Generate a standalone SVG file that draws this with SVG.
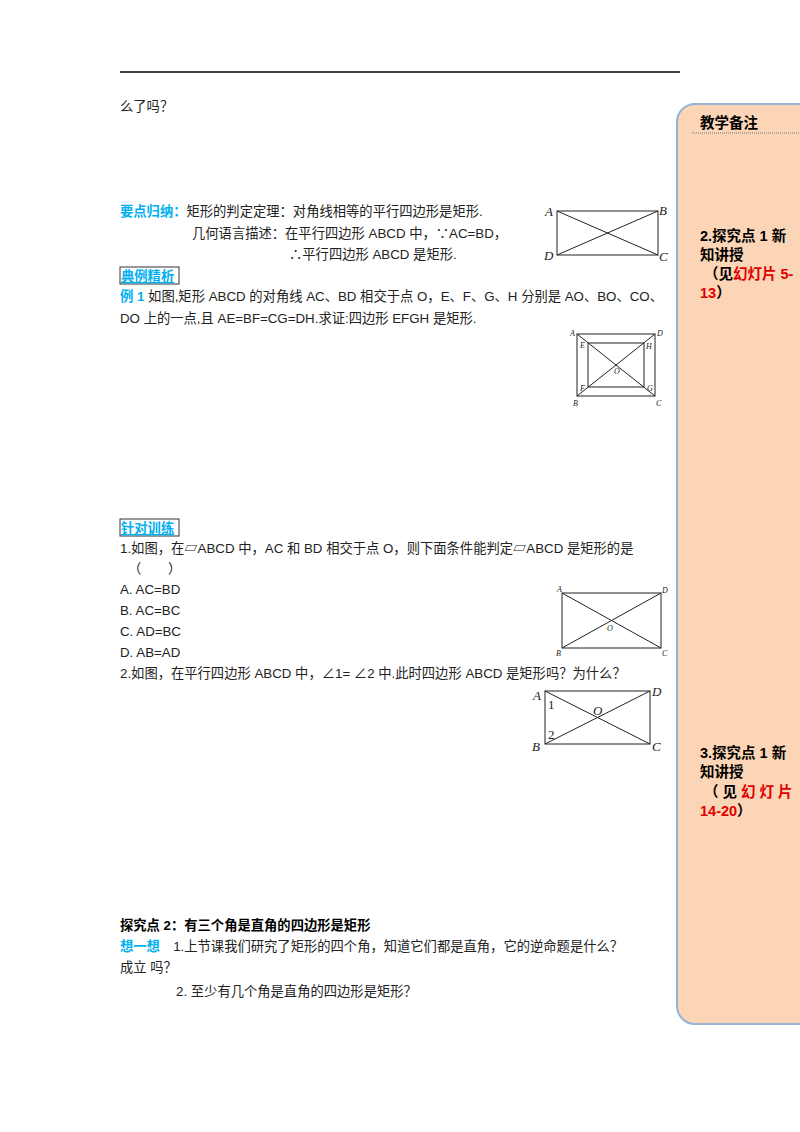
<svg xmlns="http://www.w3.org/2000/svg" width="800" height="1132" viewBox="0 0 800 1132">
<style>
text{font-family:"Liberation Sans","Noto Sans CJK SC",sans-serif;font-size:13.3px;fill:#222}
.b{fill:#00B0F0;font-weight:bold}
.k{font-weight:bold;fill:#000}
.s{font-size:14.5px}
.r{fill:#E00000;font-weight:bold}
.f{fill:none;stroke:#222;stroke-width:1}
.l{font-family:"Liberation Serif",serif;font-style:italic;font-size:13px}
.ls{font-family:"Liberation Serif",serif;font-style:italic;font-size:8px}
</style>
<rect width="800" height="1132" fill="#fff"/>
<line x1="120" y1="72" x2="680" y2="72" stroke="#000" stroke-width="1.3"/>
<g id="sidebar">
<rect x="677" y="104" width="140" height="920" rx="18" fill="#FBD5B5" stroke="#95B3D7" stroke-width="2"/>
<line x1="692" y1="133" x2="800" y2="133" stroke="#777" stroke-dasharray="1,1"/>
<text x="700" y="128" class="k s">教学备注</text>
<text x="700" y="241" class="k s">2.探究点 1 新</text>
<text x="700" y="260" class="k s">知讲授</text>
<text x="704" y="279" class="k s">（见<tspan class="r">幻灯片 5-</tspan></text>
<text x="700" y="298" class="r s">13<tspan class="k">）</tspan></text>
<text x="700" y="758" class="k s">3.探究点 1 新</text>
<text x="700" y="777" class="k s">知讲授</text>
<text x="704" y="797" class="k s">（ 见 <tspan class="r">幻 灯 片</tspan></text>
<text x="700" y="816" class="r s">14-20<tspan class="k">）</tspan></text>
</g>
<text x="120" y="111">么了吗？</text>
<text x="120" y="216"><tspan class="b">要点归纳：</tspan>矩形的判定定理：对角线相等的平行四边形是矩形.</text>
<text x="192" y="238">几何语言描述：在平行四边形 ABCD 中，∵AC=BD，</text>
<text x="289" y="259">∴平行四边形 ABCD 是矩形.</text>
<rect x="120" y="267" width="59" height="17" fill="none" stroke="#333"/>
<text x="121" y="281" class="b" text-decoration="underline">典例精析</text>
<text x="120" y="301"><tspan class="b">例 1</tspan> 如图,矩形 ABCD 的对角线 AC、BD 相交于点 O，E、F、G、H 分别是 AO、BO、CO、</text>
<text x="120" y="323">DO 上的一点,且 AE=BF=CG=DH.求证:四边形 EFGH 是矩形.</text>
<rect x="120" y="519" width="59" height="17" fill="none" stroke="#333"/>
<text x="121" y="533" class="b" text-decoration="underline">针对训练</text>
<text x="120" y="553">1.如图，在▱ABCD 中，AC 和 BD 相交于点 O，则下面条件能判定▱ABCD 是矩形的是</text>
<text x="128" y="573">（　　）</text>
<text x="120" y="594">A.  AC=BD</text>
<text x="120" y="615">B.  AC=BC</text>
<text x="120" y="636">C.  AD=BC</text>
<text x="120" y="657">D.  AB=AD</text>
<text x="120" y="678">2.如图，在平行四边形 ABCD 中，∠1= ∠2 中.此时四边形 ABCD 是矩形吗？为什么？</text>
<text x="120" y="930" class="k">探究点 2：有三个角是直角的四边形是矩形</text>
<text x="120" y="951"><tspan class="b">想一想</tspan>　1.上节课我们研究了矩形的四个角，知道它们都是直角，它的逆命题是什么？</text>
<text x="120" y="972">成立 吗？</text>
<text x="176" y="996">2. 至少有几个角是直角的四边形是矩形？</text>
<g id="fig1">
<rect x="557" y="211" width="101" height="44" class="f"/>
<path d="M557 211L658 255M557 255L658 211" class="f"/>
<text x="545" y="216" class="l">A</text><text x="659" y="215" class="l">B</text>
<text x="544" y="260" class="l">D</text><text x="659" y="261" class="l">C</text>
</g>
<g id="fig2">
<rect x="577" y="334" width="78" height="62" class="f" stroke-width="1.5"/>
<rect x="588" y="343" width="56" height="44" class="f" stroke="#888"/>
<path d="M577 334L655 396M577 396L655 334" class="f"/>
<text x="570" y="336" class="ls">A</text><text x="657" y="336" class="ls">D</text>
<text x="580" y="348" class="ls">E</text><text x="646" y="349" class="ls">H</text>
<text x="580" y="391" class="ls">F</text><text x="647" y="391" class="ls">G</text>
<text x="614" y="374" class="ls">O</text>
<text x="573" y="406" class="ls">B</text><text x="656" y="406" class="ls">C</text>
</g>
<g id="fig3">
<rect x="562" y="593" width="99" height="55" class="f"/>
<path d="M562 593L661 648M562 648L661 593" class="f"/>
<text x="557" y="592" class="ls">A</text><text x="662" y="593" class="ls">D</text>
<text x="607" y="631" class="ls">O</text>
<text x="556" y="656" class="ls">B</text><text x="662" y="656" class="ls">C</text>
</g>
<g id="fig4">
<rect x="545" y="691" width="105" height="53" class="f"/>
<path d="M545 691L650 744M545 744L650 691" class="f"/>
<text x="533" y="700" class="l" font-size="14">A</text><text x="652" y="696" class="l" font-size="14">D</text>
<text x="548" y="709" style="font-family:'Liberation Serif',serif;font-size:13px">1</text>
<text x="548" y="739" style="font-family:'Liberation Serif',serif;font-size:13px">2</text>
<text x="593" y="715" class="l" font-size="14">O</text>
<text x="532" y="751" class="l" font-size="14">B</text><text x="652" y="751" class="l" font-size="14">C</text>
</g>
</svg>
